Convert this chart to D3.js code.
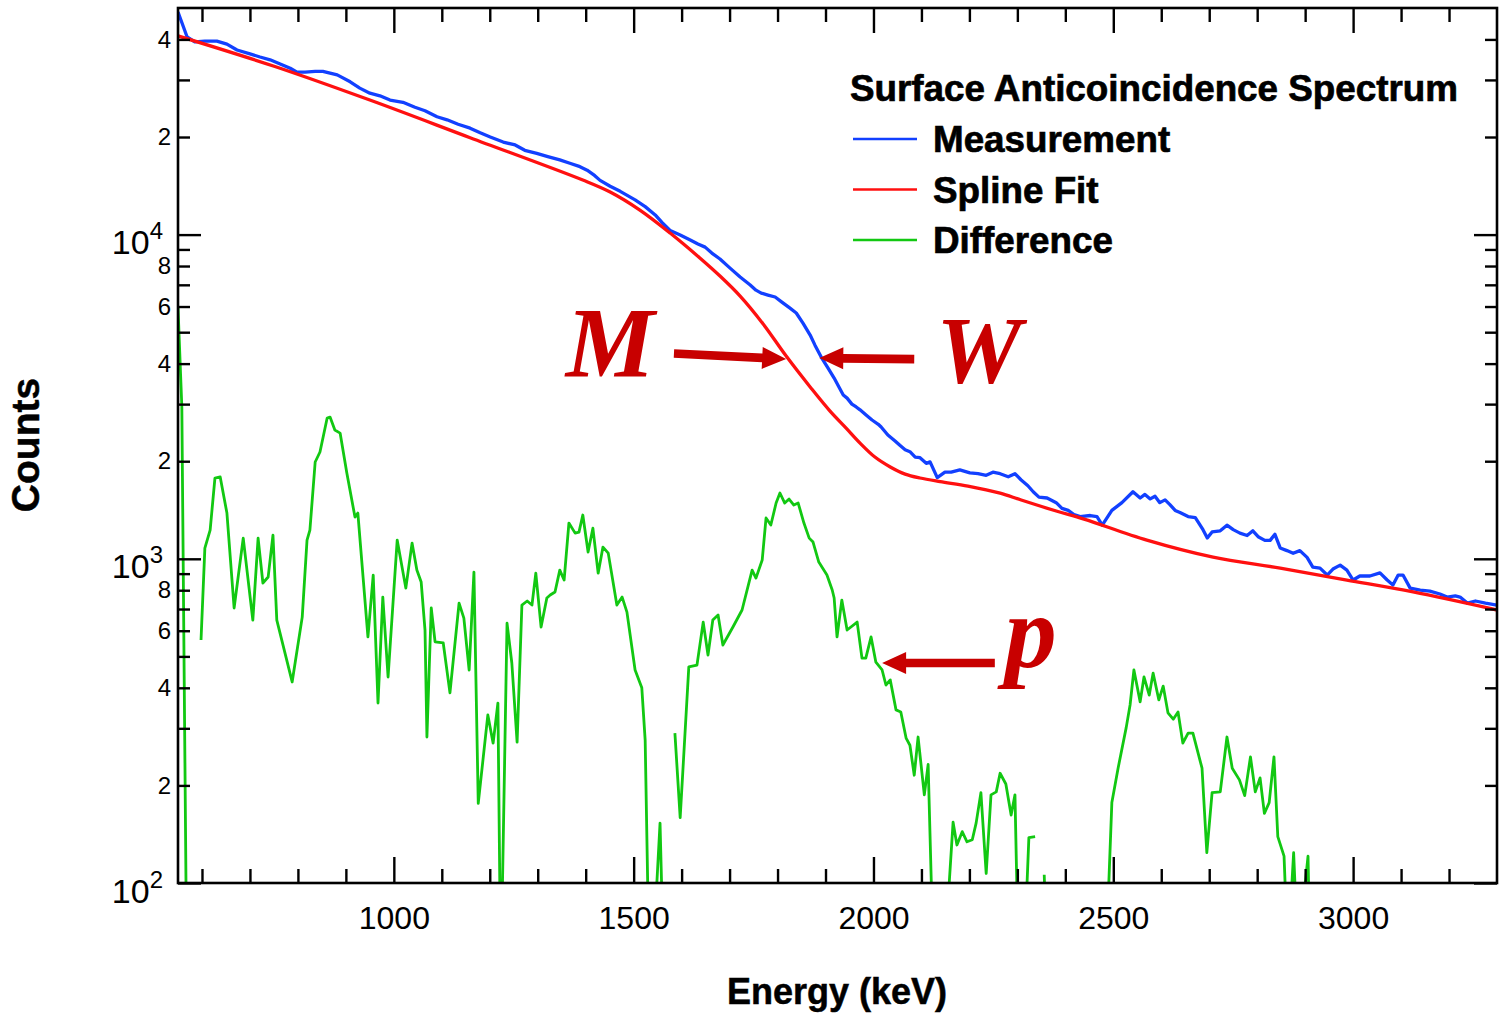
<!DOCTYPE html>
<html><head><meta charset="utf-8">
<script src="https://cdn.jsdelivr.net/npm/d3@7"></script>
<style>body{margin:0;background:#fff}svg{display:block}</style>
</head><body>
<svg id="chart" width="1505" height="1015"></svg>
<script>
// ---------- DATA ----------
const measurement = [[550,48600],[569,40700],[585,39300],[606,39500],[631,39500],[652,38700],[673,37100],[700,36100],[721,35300],[742,34600],[763,33600],[784,32600],[798,31700],[815,31700],[836,31900],[852,31900],[867,31500],[882,31100],[909,29600],[929,28300],[950,27300],[971,26800],[992,26000],[1019,25600],[1044,24700],[1065,24100],[1090,23100],[1111,22600],[1134,21900],[1159,21300],[1180,20600],[1201,20000],[1228,19300],[1253,18900],[1273,18200],[1298,17800],[1321,17400],[1346,17000],[1367,16600],[1388,16200],[1403,15800],[1419,15200],[1430,14700],[1451,14100],[1472,13600],[1503,12800],[1524,12200],[1545,11500],[1559,10900],[1576,10300],[1597,9970],[1618,9620],[1634,9350],[1649,9150],[1663,8770],[1680,8410],[1701,7880],[1722,7400],[1743,6990],[1755,6740],[1766,6600],[1780,6510],[1795,6420],[1809,6190],[1826,5930],[1839,5730],[1853,5330],[1868,4900],[1878,4560],[1891,4190],[1905,3880],[1918,3610],[1928,3390],[1937,3200],[1945,3130],[1955,3000],[1964,2940],[1972,2880],[1984,2780],[1997,2680],[2010,2600],[2016,2550],[2030,2410],[2045,2310],[2055,2240],[2066,2170],[2076,2140],[2087,2060],[2097,2050],[2110,1970],[2118,1990],[2133,1780],[2149,1850],[2162,1850],[2180,1880],[2201,1840],[2218,1830],[2235,1810],[2249,1850],[2264,1830],[2281,1790],[2295,1830],[2308,1750],[2322,1680],[2333,1610],[2345,1550],[2362,1540],[2381,1490],[2393,1430],[2406,1410],[2418,1370],[2431,1350],[2452,1360],[2466,1350],[2477,1270],[2497,1410],[2518,1490],[2541,1610],[2556,1540],[2566,1580],[2577,1530],[2587,1560],[2597,1490],[2608,1520],[2618,1470],[2629,1410],[2639,1390],[2656,1350],[2671,1340],[2687,1230],[2696,1160],[2706,1210],[2723,1220],[2737,1270],[2750,1230],[2764,1200],[2779,1180],[2791,1220],[2802,1170],[2816,1140],[2827,1140],[2837,1190],[2848,1080],[2862,1060],[2875,1040],[2889,1060],[2904,1010],[2916,943],[2931,936],[2946,891],[2958,930],[2973,956],[2987,923],[3000,860],[3014,885],[3035,885],[3056,905],[3071,860],[3083,830],[3094,891],[3104,891],[3119,812],[3140,801],[3160,795],[3181,779],[3196,762],[3213,768],[3223,762],[3238,730],[3255,741],[3276,730],[3300,720]];

const splineFit = [[550,41000],[752,33000],[950,26000],[1159,19900],[1394,14730],[1451,13530],[1513,11900],[1576,10110],[1638,8470],[1680,7450],[1722,6460],[1770,5300],[1818,4220],[1870,3360],[1909,2860],[1943,2530],[1972,2275],[2003,2060],[2035,1920],[2066,1825],[2097,1775],[2139,1730],[2197,1677],[2264,1595],[2308,1518],[2381,1404],[2439,1326],[2570,1142],[2708,1012],[2848,936],[2987,860],[3125,790],[3300,695]];

// null = break in the line (negative difference)
const difference = [[550,5980],[558,2940],[569,40],null,
[598,562],[606,1079],[617,1226],[627,1775],[638,1788],[652,1384],[667,705],[686,1158],[706,647],[717,1158],[727,842],[738,879],[748,1183],[756,647],[788,417],[809,661],[819,1142],[825,1226],[836,1989],[846,2135],[861,2717],[867,2736],[877,2495],[888,2442],[902,1838],[919,1345],[925,1384],[946,574],[957,891],[967,359],[977,762],[988,432],[1007,1142],[1025,812],[1038,1118],[1048,923],[1057,848],[1065,603],[1069,282],[1078,705],[1086,554],[1103,550],[1117,386],[1136,730],[1146,656],[1157,454],[1167,910],[1176,176],[1196,330],[1207,270],[1217,359],[1223,50],[1236,633],[1246,477],[1257,272],[1267,720],[1278,741],[1288,720],[1296,903],[1307,616],[1319,757],[1326,773],[1336,790],[1346,923],[1355,860],[1365,1289],[1378,1200],[1386,1209],[1394,1365],[1405,1049],[1415,1243],[1426,903],[1436,1087],[1447,1041],[1465,720],[1476,762],[1486,685],[1503,454],[1517,400],[1524,276],[1534,40],[1555,153],[1565,40],null,
[1586,290],[1597,159],[1615,464],[1632,470],[1645,638],[1655,505],[1665,647],[1676,671],[1686,542],[1707,616],[1726,695],[1747,923],[1755,872],[1768,991],[1776,1336],[1786,1271],[1797,1486],[1805,1596],[1815,1486],[1824,1529],[1834,1465],[1843,1486],[1855,1289],[1866,1158],[1874,1126],[1886,977],[1903,891],[1914,801],[1918,757],[1924,574],[1934,746],[1945,603],[1966,638],[1976,494],[1984,494],[1995,574],[2005,480],[2018,454],[2026,408],[2035,423],[2047,342],[2057,337],[2068,280],[2076,266],[2085,215],[2093,282],[2106,187],[2114,232],[2126,50],[2145,50],[2166,154],[2174,131],[2185,144],[2195,134],[2206,136],[2214,153],[2224,190],[2235,107],[2245,187],[2256,191],[2264,218],[2276,202],[2287,162],[2295,187],[2303,50],[2312,50],[2324,138],[2337,139],null,
[2356,106],[2358,85],null,
[2483,50],[2497,177],[2510,226],[2527,302],[2535,354],[2543,454],[2556,362],[2564,432],[2575,380],[2583,444],[2595,367],[2604,405],[2614,335],[2625,320],[2635,337],[2645,270],[2656,290],[2666,290],[2685,226],[2695,124],[2706,190],[2723,191],[2737,282],[2748,226],[2763,208],[2774,186],[2786,245],[2796,191],[2806,211],[2815,164],[2825,177],[2835,245],[2843,139],[2856,121],[2864,60],[2876,124],[2885,60],[2906,121],[2910,60]];

const xMajorTicks = [1000,1500,2000,2500,3000];
const xMinorTicks = d3.range(600,3300,100);
const yMajorTicks = [100,1000,10000];
const yMajorExp = ["2","3","4"];
const yMinorTicks = [200,300,400,500,600,700,800,900,2000,3000,4000,5000,6000,7000,8000,9000,20000,30000,40000];
const yMinorLabelled = [200,400,600,800,2000,4000,6000,8000,20000,40000];

const legendTitle = "Surface Anticoincidence Spectrum";
const seriesNames = ["Measurement","Spline Fit","Difference"];
const seriesColors = ["#1240ff","#ff1010","#12c812"];

// annotations in data coordinates: label, label pos, arrow tail, arrow tip
const annotations = [
  {text:"M", lx:1451, ly:3662, tail:[1584,4296], tip:[1818,4131]},
  {text:"W", lx:2220, ly:3484, tail:[2085,4131], tip:[1887,4160]},
  {text:"p", lx:2328, ly:464, tail:[2253,477], tip:[2018,477]}
];

// ---------- CHART ----------
const svg = d3.select("#chart");
const L = 178, R = 1497, T = 8, B = 883;
const x = d3.scaleLinear().domain([550,3300]).range([L,R]);
const y = d3.scaleLog().domain([100,50000]).range([B,T]);
const sans = "'Liberation Sans', Arial, Helvetica, sans-serif";

svg.append("defs").append("clipPath").attr("id","plot")
  .append("rect").attr("x",L).attr("y",T).attr("width",R-L).attr("height",B-T);

const g = svg.append("g").attr("clip-path","url(#plot)");
const line = d3.line().defined(d => d !== null).x(d => x(d[0])).y(d => y(d[1]));
const smooth = d3.line().x(d => x(d[0])).y(d => y(d[1])).curve(d3.curveCatmullRom.alpha(0.5));

g.append("path").datum(difference).attr("d",line).attr("fill","none")
  .attr("stroke",seriesColors[2]).attr("stroke-width",2.8).attr("stroke-linejoin","round");
g.append("path").datum(measurement).attr("d",line).attr("fill","none")
  .attr("stroke",seriesColors[0]).attr("stroke-width",3.3).attr("stroke-linejoin","round");
g.append("path").datum(splineFit).attr("d",smooth).attr("fill","none")
  .attr("stroke",seriesColors[1]).attr("stroke-width",3.3);

// axes
function style(sel){
  sel.select(".domain").remove();
  sel.selectAll("line").attr("stroke","#000").attr("stroke-width",2.4);
  sel.selectAll("text").attr("font-family",sans).attr("fill","#000");
}
// bottom
svg.append("g").attr("transform",`translate(0,${B})`)
  .call(d3.axisBottom(x).tickValues(xMinorTicks.filter(v=>!xMajorTicks.includes(v))).tickSize(-14).tickFormat(""))
  .call(style);
svg.append("g").attr("transform",`translate(0,${B})`)
  .call(d3.axisBottom(x).tickValues(xMajorTicks).tickSize(-26).tickPadding(23).tickFormat(d3.format("d")))
  .call(style).call(s => s.selectAll("text").attr("font-size",32));
// top
svg.append("g").attr("transform",`translate(0,${T})`)
  .call(d3.axisTop(x).tickValues(xMinorTicks.filter(v=>!xMajorTicks.includes(v))).tickSize(-14).tickFormat(""))
  .call(style);
svg.append("g").attr("transform",`translate(0,${T})`)
  .call(d3.axisTop(x).tickValues(xMajorTicks).tickSize(-25).tickFormat(""))
  .call(style);
// left
svg.append("g").attr("transform",`translate(${L},0)`)
  .call(d3.axisLeft(y).tickValues(yMinorTicks).tickSize(-12).tickPadding(7)
    .tickFormat(d => yMinorLabelled.includes(d) ? String(d).charAt(0) : ""))
  .call(style).call(s => s.selectAll("text").attr("font-size",24));
const yl = svg.append("g").attr("transform",`translate(${L},0)`)
  .call(d3.axisLeft(y).tickValues(yMajorTicks).tickSize(-23).tickFormat(""))
  .call(style);
yl.selectAll(".tick").each(function(d,i){
  const t = d3.select(this).append("text").attr("x",-15).attr("y",19)
    .attr("text-anchor","end").attr("font-family",sans).attr("fill","#000");
  t.append("tspan").attr("font-size",34).text("10");
  t.append("tspan").attr("font-size",24).attr("dy",-15).text(yMajorExp[i]);
});
// right
svg.append("g").attr("transform",`translate(${R},0)`)
  .call(d3.axisRight(y).tickValues(yMinorTicks).tickSize(-12).tickFormat(""))
  .call(style);
svg.append("g").attr("transform",`translate(${R},0)`)
  .call(d3.axisRight(y).tickValues(yMajorTicks).tickSize(-23).tickFormat(""))
  .call(style);

// frame
svg.append("rect").attr("x",L).attr("y",T).attr("width",R-L).attr("height",B-T)
  .attr("fill","none").attr("stroke","#000").attr("stroke-width",2.6);

// axis titles
svg.append("text").attr("x",837).attr("y",1004).attr("text-anchor","middle")
  .attr("font-family",sans).attr("font-weight","bold").attr("font-size",36)
  .attr("stroke","#000").attr("stroke-width",0.5).text("Energy (keV)");
svg.append("text").attr("transform","translate(39,445) rotate(-90)").attr("text-anchor","middle")
  .attr("font-family",sans).attr("font-weight","bold").attr("font-size",39)
  .attr("stroke","#000").attr("stroke-width",0.5).text("Counts");

// legend
const lg = svg.append("g");
lg.append("text").attr("x",850).attr("y",101).attr("font-family",sans).attr("font-weight","bold")
  .attr("font-size",36.8).attr("stroke","#000").attr("stroke-width",0.7).text(legendTitle);
seriesNames.forEach((n,i) => {
  const yy = 139 + i*50.5;
  lg.append("line").attr("x1",853).attr("x2",917).attr("y1",yy).attr("y2",yy)
    .attr("stroke",seriesColors[i]).attr("stroke-width",2.4);
  lg.append("text").attr("x",933).attr("y",yy+13).attr("font-family",sans).attr("font-weight","bold")
    .attr("font-size",36.8).attr("stroke","#000").attr("stroke-width",0.7).text(n);
});

// annotations
const red = "#c80000";
const serif = "'Liberation Serif', 'Times New Roman', 'DejaVu Serif', serif";
annotations.forEach(a => {
  svg.append("text").attr("x",x(a.lx)).attr("y",y(a.ly)).attr("text-anchor","middle")
    .attr("font-family",serif).attr("font-weight","bold").attr("font-style","italic")
    .attr("font-size",a.text==="p"?104:(a.text==="W"?96:100)).attr("fill",red).text(a.text);
  const x1 = x(a.tail[0]), y1 = y(a.tail[1]), x2 = x(a.tip[0]), y2 = y(a.tip[1]);
  const dx = x2-x1, dy = y2-y1, len = Math.hypot(dx,dy), ux = dx/len, uy = dy/len, nx = -uy, ny = ux;
  const hl = 24, hw = 11, sw = 4.3;
  const bx = x2-ux*hl, by = y2-uy*hl;
  const pts = [[x1+nx*sw,y1+ny*sw],[bx+nx*sw,by+ny*sw],[bx+nx*hw,by+ny*hw],[x2,y2],
               [bx-nx*hw,by-ny*hw],[bx-nx*sw,by-ny*sw],[x1-nx*sw,y1-ny*sw]];
  svg.append("polygon").attr("points",pts.map(p=>p.join(",")).join(" ")).attr("fill",red);
});
</script>
</body></html>
